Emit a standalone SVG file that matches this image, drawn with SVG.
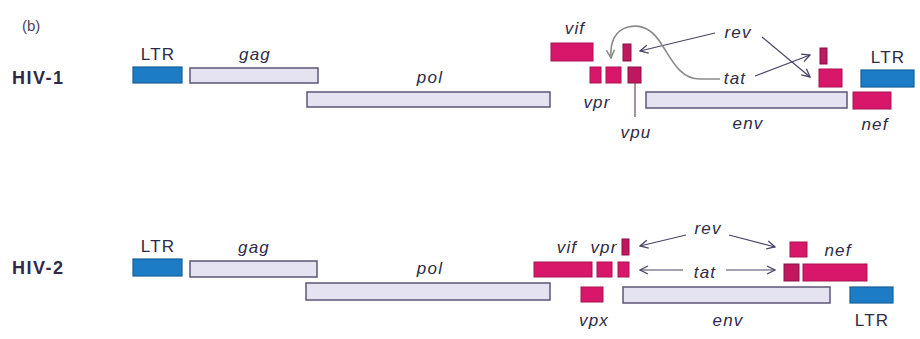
<svg xmlns="http://www.w3.org/2000/svg" width="920" height="339" viewBox="0 0 920 339">
<style>
text{font-family:"Liberation Sans",Arial,sans-serif;fill:#2e2a48}
.lab{font-size:17px;letter-spacing:1.2px}
.it{font-style:italic;font-size:17px;letter-spacing:1.2px}
.hiv{font-weight:bold;font-size:18px;letter-spacing:1.5px}
.ltr{fill:#1d7cc6;stroke:#165f9a;stroke-width:1.2}
.gene{fill:#e5e3f1;stroke:#5d5575;stroke-width:1.5}
.mg{fill:#d9176a;stroke:#a8124e;stroke-width:1}
.mgd{fill:#c0175f;stroke:#8e1046;stroke-width:1}
.arr{fill:none;stroke:#4a4466;stroke-width:1.2;marker-end:url(#ah)}
.grey{fill:none;stroke:#8a8a8a;stroke-width:1.6;marker-end:url(#ahg)}
</style>
<defs>
<marker id="ah" viewBox="0 0 10 10" refX="9" refY="5" markerWidth="10" markerHeight="10" markerUnits="userSpaceOnUse" orient="auto">
<path d="M1,1 L9,5 L1,9" fill="none" stroke="#4a4466" stroke-width="1.3"/>
</marker>
<marker id="ahg" viewBox="0 0 10 10" refX="9" refY="5" markerWidth="10" markerHeight="10" markerUnits="userSpaceOnUse" orient="auto">
<path d="M1,1 L9,5 L1,9" fill="none" stroke="#8a8a8a" stroke-width="1.5"/>
</marker>
</defs>
<text x="22" y="31" style="font-size:15px;fill:#4a4660">(b)</text>

<!-- HIV-1 -->
<g id="hiv1">
<text class="hiv" x="12" y="84">HIV-1</text>
<g id="h1-ltr5"><rect class="ltr" x="133" y="67" width="49" height="16"/><text class="lab" x="158" y="60" text-anchor="middle">LTR</text></g>
<g id="h1-gag"><rect class="gene" x="190" y="68" width="128" height="15"/><text class="it" x="255" y="60" text-anchor="middle">gag</text></g>
<g id="h1-pol"><rect class="gene" x="307" y="92" width="243" height="15"/><text class="it" x="430" y="83" text-anchor="middle">pol</text></g>
<g id="h1-vif"><rect class="mg" x="551" y="43" width="42" height="18"/><text class="it" x="575" y="34" text-anchor="middle">vif</text></g>
<g id="h1-rev1"><rect class="mgd" x="623" y="44" width="8" height="17"/></g>
<g id="h1-vpr"><rect class="mg" x="590" y="67" width="11" height="16"/><rect class="mg" x="606" y="67" width="15" height="16"/><text class="it" x="597" y="108" text-anchor="middle">vpr</text></g>
<g id="h1-vpu"><rect class="mgd" x="628" y="67" width="13" height="16"/><line x1="635" y1="83" x2="635" y2="117" stroke="#6a4a70" stroke-width="1.2"/><text class="it" x="636" y="138" text-anchor="middle">vpu</text></g>
<g id="h1-env"><rect class="gene" x="646" y="92" width="201" height="16"/><text class="it" x="748" y="129" text-anchor="middle">env</text></g>
<g id="h1-rev"><text class="it" x="738" y="38" text-anchor="middle">rev</text></g>
<g id="h1-tat"><text class="it" x="735" y="84" text-anchor="middle">tat</text></g>
<g id="h1-rev2"><rect class="mgd" x="820" y="48" width="7" height="16"/></g>
<g id="h1-tat2"><rect class="mg" x="819" y="69" width="23" height="18"/></g>
<g id="h1-ltr3"><rect class="ltr" x="861" y="70" width="53" height="17"/><text class="lab" x="888" y="63" text-anchor="middle">LTR</text></g>
<g id="h1-nef"><rect class="mg" x="853" y="92" width="38" height="17"/><text class="it" x="875" y="130" text-anchor="middle">nef</text></g>
</g>

<!-- HIV-2 -->
<g id="hiv2">
<text class="hiv" x="12" y="274">HIV-2</text>
<g id="h2-ltr5"><rect class="ltr" x="133" y="259" width="49" height="17"/><text class="lab" x="158" y="252" text-anchor="middle">LTR</text></g>
<g id="h2-gag"><rect class="gene" x="190" y="261" width="127" height="16"/><text class="it" x="254" y="253" text-anchor="middle">gag</text></g>
<g id="h2-pol"><rect class="gene" x="306" y="283" width="244" height="17"/><text class="it" x="430" y="274" text-anchor="middle">pol</text></g>
<g id="h2-vif"><rect class="mg" x="534" y="262" width="58" height="15"/><text class="it" x="567" y="253" text-anchor="middle">vif</text></g>
<g id="h2-vpr"><rect class="mg" x="597" y="262" width="15" height="15"/><text class="it" x="604" y="253" text-anchor="middle">vpr</text></g>
<g id="h2-rev1"><rect class="mgd" x="622" y="239" width="7" height="16"/></g>
<g id="h2-tat1"><rect class="mg" x="618" y="262" width="11" height="15"/></g>
<g id="h2-vpx"><rect class="mg" x="581" y="287" width="22" height="15"/><text class="it" x="594" y="326" text-anchor="middle">vpx</text></g>
<g id="h2-env"><rect class="gene" x="623" y="287" width="207" height="16"/><text class="it" x="728" y="326" text-anchor="middle">env</text></g>
<g id="h2-rev"><text class="it" x="708" y="234" text-anchor="middle">rev</text></g>
<g id="h2-tat"><text class="it" x="705" y="278" text-anchor="middle">tat</text></g>
<g id="h2-rev2"><rect class="mg" x="790" y="242" width="17" height="15"/></g>
<g id="h2-tat2"><rect class="mgd" x="784" y="264" width="15" height="17"/></g>
<g id="h2-nef"><rect class="mg" x="803" y="264" width="64" height="17"/><text class="it" x="838" y="256" text-anchor="middle">nef</text></g>
<g id="h2-ltr3"><rect class="ltr" x="850" y="287" width="43" height="16"/><text class="lab" x="872" y="326" text-anchor="middle">LTR</text></g>
</g>

<g id="connectors">
<line class="arr" x1="715" y1="33" x2="640" y2="51"/>
<line class="arr" x1="762" y1="37" x2="810" y2="77"/>
<line class="arr" x1="755" y1="76" x2="810" y2="55"/>
<path class="grey" d="M720,79 L700,79 C680,79 672,60 662,45 C652,28 640,24 628,27 C614,31 610,44 611,58"/>
<line class="arr" x1="686" y1="235" x2="640" y2="246"/>
<line class="arr" x1="729" y1="235" x2="775" y2="247"/>
<line class="arr" x1="683" y1="270" x2="640" y2="270"/>
<line class="arr" x1="726" y1="270" x2="775" y2="270"/>
</g>
</svg>
